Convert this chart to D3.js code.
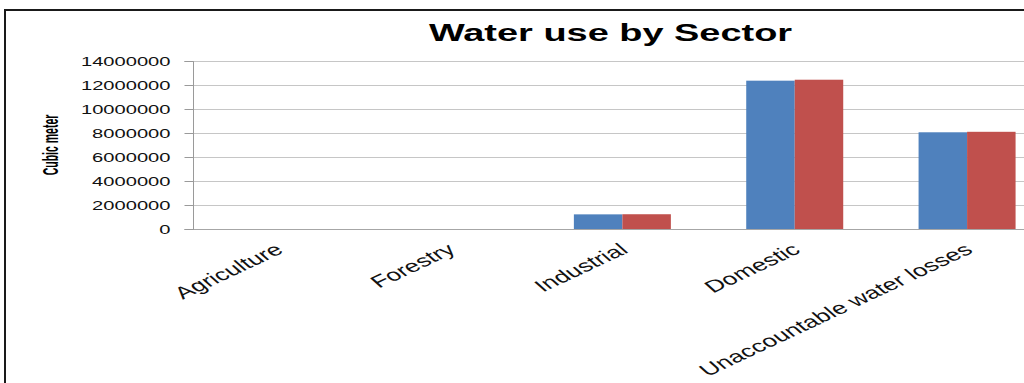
<!DOCTYPE html>
<html>
<head>
<meta charset="utf-8">
<script src="https://cdn.jsdelivr.net/npm/d3@7"></script>
<style>
  html, body { margin: 0; padding: 0; background: #fff; }
  svg { display: block; }
  text { font-family: "Liberation Sans", Arial, sans-serif; }
</style>
</head>
<body>
<svg id="chart" width="1024" height="383"></svg>
<script>
// Water use per sector, two series (cubic meters)
const categories = ["Agriculture", "Forestry", "Industrial", "Domestic", "Unaccountable water losses"];
const seriesNames = ["Series 1", "Series 2"];
const seriesA = [0, 0, 1220000, 12360000, 8060000];
const seriesB = [0, 0, 1230000, 12440000, 8100000];
const yTicks = [0, 2000000, 4000000, 6000000, 8000000, 10000000, 12000000, 14000000];
const colors = ["#4F81BD", "#C0504D"];

const svg = d3.select("#chart");
const W = 1024, H = 383;

// glyphs in this chart are drawn wide
const stretch = 1.55;

const plot = { left: 193, right: 1055, top: 61, bottom: 229 };
const bandLeft = 191.5, bandStep = 172.35;

const x0 = d3.scaleBand().domain(categories)
  .range([bandLeft, bandLeft + bandStep * categories.length]).padding(0);
const step = x0.step();
const groupW = 97;
const x1 = d3.scaleBand().domain(seriesNames)
  .range([(step - groupW) / 2, (step + groupW) / 2]).padding(0);
const y = d3.scaleLinear().domain([0, 14000000]).range([plot.bottom, plot.top]);

// outer frame
svg.append("rect")
  .attr("x", 5).attr("y", 10)
  .attr("width", W + 20).attr("height", H + 20)
  .attr("fill", "none").attr("stroke", "#1a1a1a").attr("stroke-width", 2);

// horizontal gridlines
svg.append("g").selectAll("line").data(yTicks).join("line")
  .attr("x1", plot.left).attr("x2", plot.right)
  .attr("y1", d => Math.round(y(d)) + 0.5).attr("y2", d => Math.round(y(d)) + 0.5)
  .attr("stroke", d => d === 0 ? "#a6a6a6" : "#c6c6c6").attr("stroke-width", 1);

// y axis with ticks and labels
const yAxis = d3.axisLeft(y).tickValues(yTicks).tickFormat(d3.format("d")).tickSize(9).tickPadding(14);
const gy = svg.append("g").attr("transform", `translate(${plot.left + 0.5},0)`).call(yAxis);
gy.select(".domain").attr("stroke", "#9a9a9a").attr("d", `M-9,${plot.top + 0.5}H0V${plot.bottom + 0.5}H-9`);
gy.selectAll(".tick line").attr("stroke", "#9a9a9a");
gy.selectAll(".tick text")
  .attr("x", null).attr("dy", null)
  .attr("dominant-baseline", "central")
  .attr("transform", `translate(-23,0) scale(${stretch},1)`)
  .attr("font-size", 13).attr("fill", "#111")
  .style("font-family", "'Liberation Sans', Arial, sans-serif");

// bars
const rows = categories.map((c, i) => ({ cat: c, vals: [seriesA[i], seriesB[i]] }));
const groups = svg.append("g").selectAll("g").data(rows).join("g")
  .attr("transform", d => `translate(${x0(d.cat)},0)`);
groups.selectAll("rect").data(d => d.vals.map((v, j) => ({ v, s: seriesNames[j], j })))
  .join("rect")
  .attr("x", d => x1(d.s))
  .attr("width", x1.bandwidth())
  .attr("y", d => y(d.v))
  .attr("height", d => y(0) - y(d.v))
  .attr("fill", d => colors[d.j]);

// category labels, slanted
const theta = 36;
svg.append("g").selectAll("text").data(categories).join("text")
  .attr("transform", d => `translate(${x0(d) + step / 2 + 7},252) scale(${stretch},1) rotate(${-theta})`)
  .attr("text-anchor", "end")
  .attr("font-size", 17)
  .attr("fill", "#111")
  .text(d => d);

// title
svg.append("text")
  .attr("transform", `translate(610.5,41) scale(1.65,1)`)
  .attr("text-anchor", "middle")
  .attr("font-size", 23).attr("font-weight", "bold").attr("fill", "#000")
  .text("Water use by Sector");

// y axis title
svg.append("text")
  .attr("transform", `translate(58,145) scale(2.1,1) rotate(-90)`)
  .attr("text-anchor", "middle")
  .attr("font-size", 10.5).attr("font-weight", "bold").attr("fill", "#000")
  .text("Cubic meter");
</script>
</body>
</html>
